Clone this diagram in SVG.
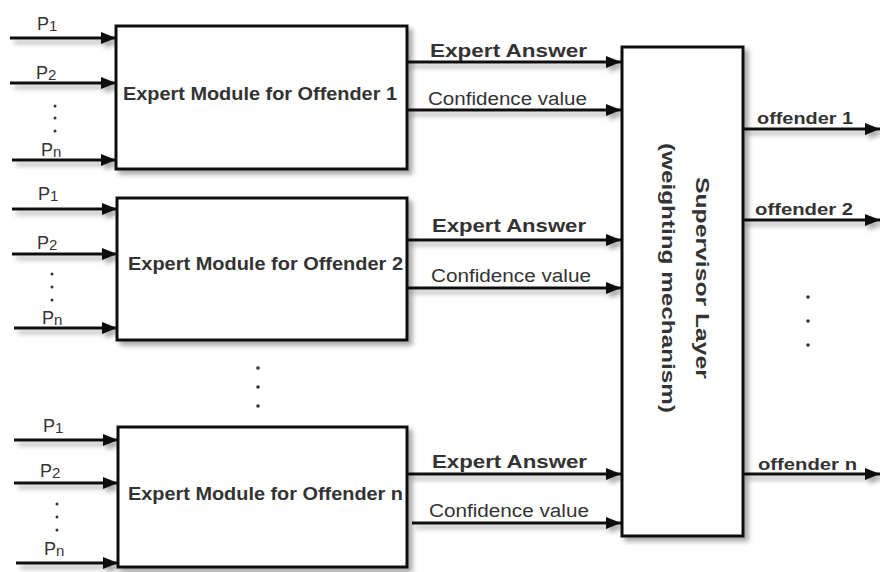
<svg xmlns="http://www.w3.org/2000/svg" width="880" height="572" viewBox="0 0 880 572">
<defs>
<filter id="sh" x="-20%" y="-20%" width="140%" height="140%">
<feDropShadow dx="4" dy="4" stdDeviation="2.5" flood-color="#000" flood-opacity="0.35"/>
</filter>
<marker id="ah" viewBox="0 0 10 10" refX="10" refY="5" markerWidth="5" markerHeight="4" orient="auto" markerUnits="strokeWidth" preserveAspectRatio="none">
<path d="M0,0 L10,5 L0,10 z" fill="#111"/>
</marker>
<style>
.box{fill:#fff;stroke:#111;stroke-width:3;filter:url(#sh)}
.ln{stroke:#111;stroke-width:3;fill:none;marker-end:url(#ah)}
.t{font-family:"Liberation Sans",Arial,sans-serif;fill:#333}
.bl{font-size:18px;font-weight:bold}
.ea{font-size:18px;font-weight:bold}
.cv{font-size:18px}
.p{font-size:18px}
.of{font-size:17px;font-weight:bold}
.sv{font-size:19px;font-weight:bold}
.dot{fill:#333}
</style>
</defs>
<g id="connectors" filter="url(#sh)">
<line class="ln" x1="10" y1="38" x2="116" y2="38"/>
<line class="ln" x1="10" y1="83" x2="116" y2="83"/>
<line class="ln" x1="12" y1="160" x2="116" y2="160"/>
<line class="ln" x1="12" y1="209" x2="117" y2="209"/>
<line class="ln" x1="12" y1="254" x2="117" y2="254"/>
<line class="ln" x1="14" y1="328" x2="117" y2="328"/>
<line class="ln" x1="14" y1="440" x2="118" y2="440"/>
<line class="ln" x1="14" y1="483" x2="118" y2="483"/>
<line class="ln" x1="16" y1="563" x2="118" y2="563"/>
<line class="ln" x1="406" y1="62" x2="621" y2="62"/>
<line class="ln" x1="406" y1="110" x2="621" y2="110"/>
<line class="ln" x1="407" y1="240" x2="621" y2="240"/>
<line class="ln" x1="407" y1="288" x2="621" y2="288"/>
<line class="ln" x1="407" y1="474" x2="621" y2="474"/>
<line class="ln" x1="412" y1="523" x2="621" y2="523"/>
<line class="ln" x1="743" y1="129" x2="880" y2="129"/>
<line class="ln" x1="743" y1="220" x2="880" y2="220"/>
<line class="ln" x1="743" y1="474" x2="880" y2="474"/>
</g>
<g id="labels">
<text class="t p" x="37" y="30">P<tspan font-size="15" dy="1">1</tspan></text>
<text class="t p" x="36" y="79">P<tspan font-size="15" dy="1">2</tspan></text>
<text class="t p" x="41" y="156">P<tspan font-size="15" dy="1">n</tspan></text>
<text class="t p" x="38" y="200">P<tspan font-size="15" dy="1">1</tspan></text>
<text class="t p" x="37" y="249">P<tspan font-size="15" dy="1">2</tspan></text>
<text class="t p" x="42" y="324">P<tspan font-size="15" dy="1">n</tspan></text>
<text class="t p" x="43" y="432">P<tspan font-size="15" dy="1">1</tspan></text>
<text class="t p" x="40" y="477">P<tspan font-size="15" dy="1">2</tspan></text>
<text class="t p" x="44" y="555">P<tspan font-size="15" dy="1">n</tspan></text>
<text class="t ea" x="430" y="57" textLength="157" lengthAdjust="spacingAndGlyphs">Expert Answer</text>
<text class="t cv" x="428" y="105" textLength="159" lengthAdjust="spacingAndGlyphs">Confidence value</text>
<text class="t ea" x="432" y="232" textLength="154" lengthAdjust="spacingAndGlyphs">Expert Answer</text>
<text class="t cv" x="431" y="282" textLength="160" lengthAdjust="spacingAndGlyphs">Confidence value</text>
<text class="t ea" x="432" y="468" textLength="155" lengthAdjust="spacingAndGlyphs">Expert Answer</text>
<text class="t cv" x="429" y="517" textLength="160" lengthAdjust="spacingAndGlyphs">Confidence value</text>
<text class="t of" x="757" y="124" textLength="96" lengthAdjust="spacingAndGlyphs">offender 1</text>
<text class="t of" x="755" y="215" textLength="98" lengthAdjust="spacingAndGlyphs">offender 2</text>
<text class="t of" x="758" y="470" textLength="99" lengthAdjust="spacingAndGlyphs">offender n</text>
</g>
<g id="dots">
<circle class="dot" cx="55" cy="106" r="1.5"/><circle class="dot" cx="55" cy="118" r="1.5"/><circle class="dot" cx="55" cy="131" r="1.5"/>
<circle class="dot" cx="52" cy="274" r="1.5"/><circle class="dot" cx="52" cy="287" r="1.5"/><circle class="dot" cx="52" cy="300" r="1.5"/>
<circle class="dot" cx="57" cy="504" r="1.5"/><circle class="dot" cx="57" cy="517" r="1.5"/><circle class="dot" cx="57" cy="530" r="1.5"/>
<circle class="dot" cx="258" cy="368" r="1.8"/><circle class="dot" cx="258" cy="387" r="1.8"/><circle class="dot" cx="258" cy="406" r="1.8"/>
<circle class="dot" cx="808" cy="297" r="1.8"/><circle class="dot" cx="808" cy="321" r="1.8"/><circle class="dot" cx="808" cy="345" r="1.8"/>
</g>
<g id="module1">
<rect class="box" x="116" y="26" width="291" height="143"/>
<text class="t bl" x="123" y="100" textLength="274" lengthAdjust="spacingAndGlyphs">Expert Module for Offender 1</text>
</g>
<g id="module2">
<rect class="box" x="117" y="198" width="290" height="142"/>
<text class="t bl" x="128" y="270" textLength="275" lengthAdjust="spacingAndGlyphs">Expert Module for Offender 2</text>
</g>
<g id="modulen">
<rect class="box" x="118" y="427" width="289" height="140"/>
<text class="t bl" x="128" y="500" textLength="275" lengthAdjust="spacingAndGlyphs">Expert Module for Offender n</text>
</g>
<g id="supervisor">
<rect class="box" x="622" y="47" width="121" height="489"/>
<text class="t sv" transform="translate(686,278) rotate(90)"><tspan x="-101" y="-10" textLength="202" lengthAdjust="spacingAndGlyphs">Supervisor Layer</tspan><tspan x="-135" y="24" textLength="270" lengthAdjust="spacingAndGlyphs">(weighting mechanism)</tspan></text>
</g>
</svg>
